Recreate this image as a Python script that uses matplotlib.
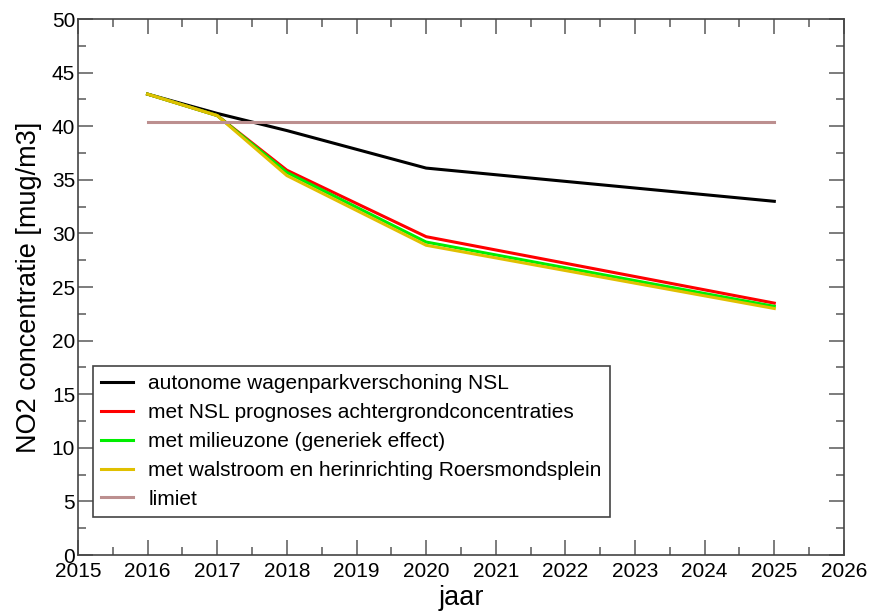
import matplotlib
matplotlib.use("Agg")
import matplotlib.pyplot as plt
from matplotlib.ticker import MultipleLocator

plt.rcParams['font.family'] = ['Liberation Sans', 'DejaVu Sans']

years = [2016, 2017, 2018, 2020, 2025]
autonoom = [43.0, 41.2, 39.6, 36.1, 33.0]
nsl = [43.0, 41.0, 35.9, 29.7, 23.5]
milieuzone = [43.0, 41.0, 35.7, 29.2, 23.2]
walstroom = [43.0, 41.0, 35.4, 28.9, 23.0]
limiet_years = [2016, 2025]
limiet = [40.4, 40.4]

labels = ["autonome wagenparkverschoning NSL",
          "met NSL prognoses achtergrondconcentraties",
          "met milieuzone (generiek effect)",
          "met walstroom en herinrichting Roersmondsplein",
          "limiet"]

fig = plt.figure(figsize=(8.77, 6.16), dpi=100)
ax = fig.add_axes([0.0889, 0.099, 0.8734, 0.870])

ax.plot(years, autonoom, color='black', lw=2.2, label=labels[0])
ax.plot(years, nsl, color='#ff0000', lw=2.2, label=labels[1])
ax.plot(years, milieuzone, color='#00ee00', lw=2.2, label=labels[2])
ax.plot(years, walstroom, color='#e0c000', lw=2.2, label=labels[3])
ax.plot(limiet_years, limiet, color='#bc8f8f', lw=2.2, label=labels[4])

ax.set_xlim(2015, 2026)
ax.set_ylim(0, 50)
ax.xaxis.set_major_locator(MultipleLocator(1))
ax.xaxis.set_minor_locator(MultipleLocator(0.5))
ax.yaxis.set_major_locator(MultipleLocator(5))
ax.yaxis.set_minor_locator(MultipleLocator(2.5))
ax.tick_params(which='both', direction='in', top=True, right=True, colors='#666666',
               labelcolor='black', labelsize=15)
ax.tick_params(which='major', length=10.5, width=1.2)
ax.tick_params(which='minor', length=5.5, width=1.2)
ax.tick_params(axis='x', which='major', pad=5)
ax.tick_params(axis='y', which='major', pad=2)
for s in ax.spines.values():
    s.set_color('#444444')
    s.set_linewidth(1.2)

ax.set_xlabel('jaar', fontsize=19.5, labelpad=3)
ax.set_ylabel('NO2 concentratie [mug/m3]', fontsize=19.5, labelpad=7)

leg = ax.legend(loc='lower left', bbox_to_anchor=(0.0196, 0.071), borderaxespad=0,
                fontsize=15, fancybox=False, framealpha=1, edgecolor='#444444',
                handlelength=1.5, borderpad=0.4, labelspacing=0.47, handletextpad=0.75)
leg.get_frame().set_linewidth(1.2)

fig.savefig('out.png', dpi=100)
